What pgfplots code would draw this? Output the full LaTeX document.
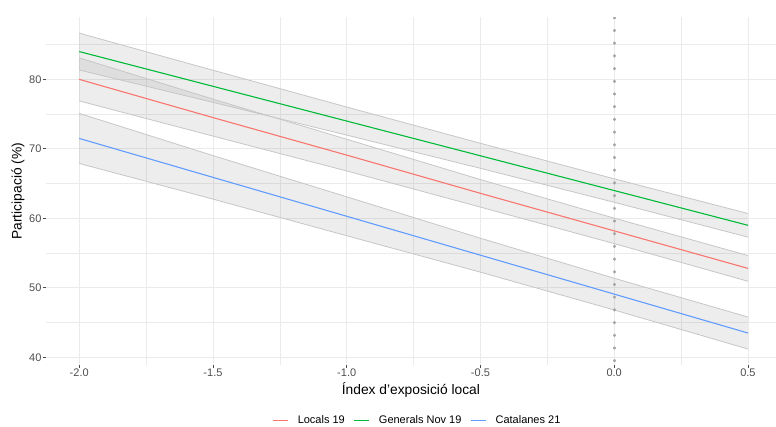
\documentclass[border=0pt]{standalone}
\usepackage{fontspec}
\setmainfont{Liberation Sans}
\usepackage{pgfplots}
\pgfplotsset{compat=1.18}
\usepgfplotslibrary{fillbetween}
\usepackage{pgfplotstable}

\definecolor{cred}{HTML}{F8766D}
\definecolor{cgreen}{HTML}{00BA38}
\definecolor{cblue}{HTML}{619CFF}
\definecolor{gridc}{HTML}{EBEBEB}
\definecolor{tickc}{HTML}{4D4D4D}
\definecolor{edgec}{HTML}{C6C6C6}

\pgfplotstableread{
x fit lo hi
-2.0 80.0 76.90 83.10
-1.5 74.5 71.84 77.16
-1.0 69.1 66.82 71.38
-0.5 63.6 61.62 65.58
0.0 58.2 56.37 60.03
0.5 52.8 50.95 54.65
}\locals
\pgfplotstableread{
x fit lo hi
-2.0 84.0 81.35 86.65
-1.5 79.0 76.69 81.31
-1.0 74.0 71.98 76.02
-0.5 69.0 67.20 70.80
0.0 64.0 62.31 65.69
0.5 59.0 57.30 60.70
}\generals
\pgfplotstableread{
x fit lo hi
-2.0 71.5 67.90 75.10
-1.5 65.9 62.77 69.03
-1.0 60.3 57.50 63.10
-0.5 54.7 52.26 57.14
0.0 49.1 46.82 51.38
0.5 43.5 41.20 45.80
}\catalanes

\begin{document}
\begin{tikzpicture}
\begin{axis}[
  scale only axis, width=730.6bp, height=347.5bp,
  at={(0,0)}, anchor=south west,
  xmin=-2.1256, xmax=0.6056, ymin=38.9, ymax=88.9,
  axis line style={draw=none},
  xtick={-2,-1.5,-1,-0.5,0,0.5},
  xticklabels={-2.0,-1.5,-1.0,-0.5,0.0,0.5},
  ytick={40,50,60,70,80},
  yticklabels={40,50,60,70,80},
  minor xtick={-1.75,-1.25,-0.75,-0.25,0.25},
  minor ytick={45,55,65,75,85},
  grid=both,
  major grid style={gridc, line width=0.9bp},
  minor grid style={gridc, line width=0.45bp},
  xtick pos=bottom, ytick pos=left,
  tick align=outside, major tick length=3bp, minor tick length=0pt,
  tick style={tickc, line width=0.8bp},
  ticklabel style={font=\fontsize{11bp}{13bp}\selectfont, text=tickc},
  yticklabel style={anchor=east, inner sep=0pt, xshift=-1bp},
  xticklabel style={anchor=north, inner sep=0pt, yshift=-1bp},
  xlabel={Índex d'exposició local},
  ylabel={Participació (\%)},
  label style={font=\fontsize{13.8bp}{16bp}\selectfont},
  xlabel style={at={(axis description cs:0.5,-0.0719)}, anchor=center},
  ylabel style={at={(axis description cs:-0.0378,0.5)}, anchor=center},
  legend style={at={(axis description cs:0.5077,-0.1597)}, anchor=center,
    draw=none, fill=none, font=\fontsize{11bp}{13bp}\selectfont,
    nodes={inner sep=0pt},
    /tikz/every odd column/.append style={column sep=9bp},
    /tikz/every even column/.append style={column sep=9bp}},
  legend columns=3,
  legend image code/.code={\draw[#1] (0bp,0bp) -- (15bp,0bp);},
]
% ribbons
\addplot[name path=lu, draw=edgec, line width=0.8bp, forget plot] table[x=x,y=hi]{\locals};
\addplot[name path=ll, draw=edgec, line width=0.8bp, forget plot] table[x=x,y=lo]{\locals};
\addplot[fill=gray, fill opacity=0.14, draw=none, forget plot] fill between[of=lu and ll];
\addplot[name path=gu, draw=edgec, line width=0.8bp, forget plot] table[x=x,y=hi]{\generals};
\addplot[name path=gl, draw=edgec, line width=0.8bp, forget plot] table[x=x,y=lo]{\generals};
\addplot[fill=gray, fill opacity=0.14, draw=none, forget plot] fill between[of=gu and gl];
\addplot[name path=cu, draw=edgec, line width=0.8bp, forget plot] table[x=x,y=hi]{\catalanes};
\addplot[name path=cl, draw=edgec, line width=0.8bp, forget plot] table[x=x,y=lo]{\catalanes};
\addplot[fill=gray, fill opacity=0.14, draw=none, forget plot] fill between[of=cu and cl];
% vertical dotted line
\addplot[black!35, line width=2.8bp, line cap=round, dash pattern=on 0.6bp off 12.1bp, forget plot] coordinates {(0,88.9) (0,38.9)};
% fits
\addplot[cred, line width=1.1bp, forget plot] table[x=x,y=fit]{\locals};
\addplot[cgreen, line width=1.1bp, forget plot] table[x=x,y=fit]{\generals};
\addplot[cblue, line width=1.1bp, forget plot] table[x=x,y=fit]{\catalanes};
\addlegendimage{cred, line width=1.1bp}
\addlegendentry{Locals 19}
\addlegendimage{cgreen, line width=1.1bp}
\addlegendentry{Generals Nov 19}
\addlegendimage{cblue, line width=1.1bp}
\addlegendentry{Catalanes 21}
\end{axis}
\pgfresetboundingbox
\path[use as bounding box] (-45.6bp,-62bp) rectangle (730.4bp,365bp);
\end{tikzpicture}
\end{document}
